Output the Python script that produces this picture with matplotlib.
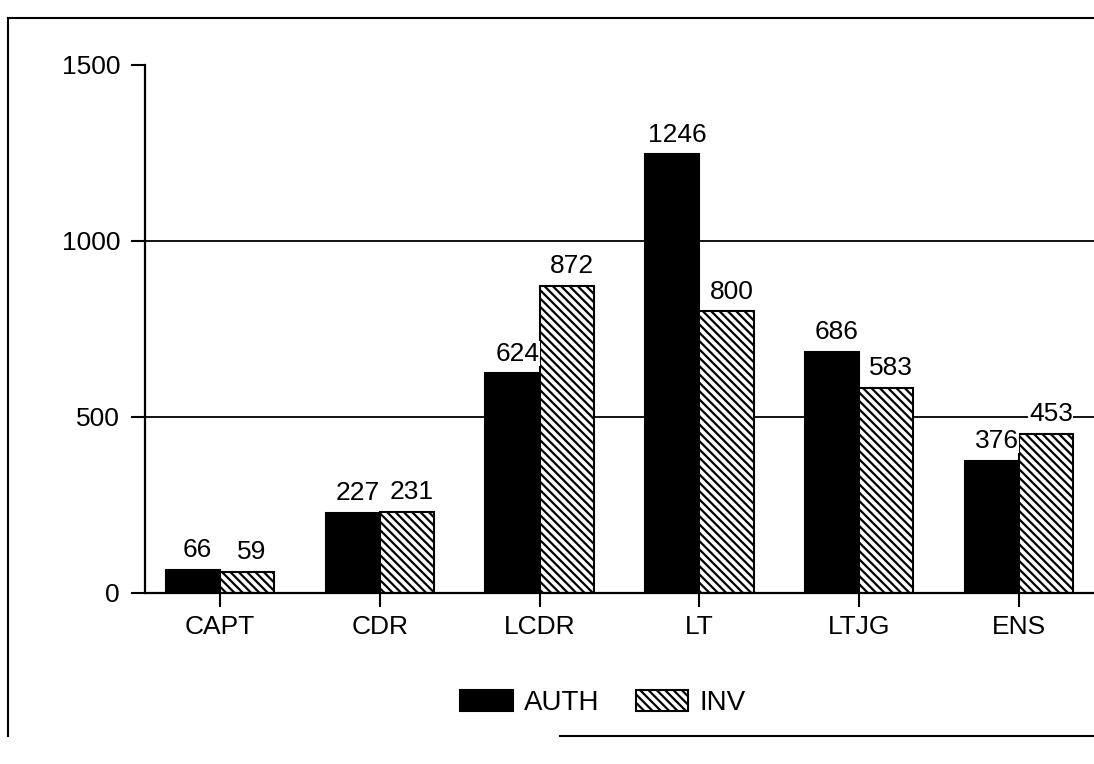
import matplotlib
matplotlib.use("Agg")
import matplotlib.pyplot as plt
from matplotlib.lines import Line2D
import numpy as np

categories = ["CAPT", "CDR", "LCDR", "LT", "LTJG", "ENS"]
auth = [66, 227, 624, 1246, 686, 376]
inv = [59, 231, 872, 800, 583, 453]
yticks = [0, 500, 1000, 1500]

plt.rcParams['font.family'] = ['Liberation Sans', 'DejaVu Sans']
plt.rcParams['hatch.linewidth'] = 1.6

fig = plt.figure(figsize=(10.94, 7.64), dpi=100)
ax = fig.add_axes([145/1094, 1-593/764, 1-145/1094, (593-65)/764])

x = np.arange(len(categories))
w = 0.34
b1 = ax.bar(x - w/2, auth, w, color='black', edgecolor='black', linewidth=1.5, label='AUTH', zorder=2)
b2 = ax.bar(x + w/2, inv, w, color='white', edgecolor='black', hatch='\\\\\\\\', linewidth=1.5, label='INV', zorder=2)

for xi, v in zip(x - w/2, auth):
    ax.text(xi + 0.03, v + 22, str(v), ha='center', va='bottom', fontsize=19, zorder=3,
            bbox=dict(facecolor='white', edgecolor='none', pad=0.3))
for xi, v in zip(x + w/2, inv):
    ax.text(xi + 0.03, v + 22, str(v), ha='center', va='bottom', fontsize=19, zorder=3,
            bbox=dict(facecolor='white', edgecolor='none', pad=0.3))

ax.set_xlim(-0.47, 5.47)
ax.set_ylim(0, 1500)
ax.set_yticks(yticks)
ax.set_xticks(x)
ax.set_xticklabels(categories)
ax.tick_params(axis='both', labelsize=19, width=1.5, length=10, direction='out')
ax.tick_params(axis='y', pad=8)
ax.tick_params(axis='x', pad=6)
for t in [500, 1000]:
    ax.axhline(t, color='black', linewidth=1.3, zorder=1)
for s in ['top', 'right']:
    ax.spines[s].set_visible(False)
for s in ['left', 'bottom']:
    ax.spines[s].set_linewidth(1.6)

fig.legend(handles=[b1, b2], labels=['AUTH', 'INV'], loc='center', bbox_to_anchor=(0.551, 1-703/764),
           ncol=2, frameon=False, fontsize=20, handlelength=1.9, handleheight=0.8,
           columnspacing=1.3, handletextpad=0.4)

# outer frame
fig.add_artist(Line2D([8/1094, 8/1094], [1-18/764, 1-736/764], transform=fig.transFigure, color='black', lw=1.5))
fig.add_artist(Line2D([8/1094, 1.0], [1-18/764, 1-18/764], transform=fig.transFigure, color='black', lw=1.5))
fig.add_artist(Line2D([560/1094, 1.0], [1-736/764, 1-736/764], transform=fig.transFigure, color='black', lw=1.5))

fig.savefig("out.png", dpi=100)
